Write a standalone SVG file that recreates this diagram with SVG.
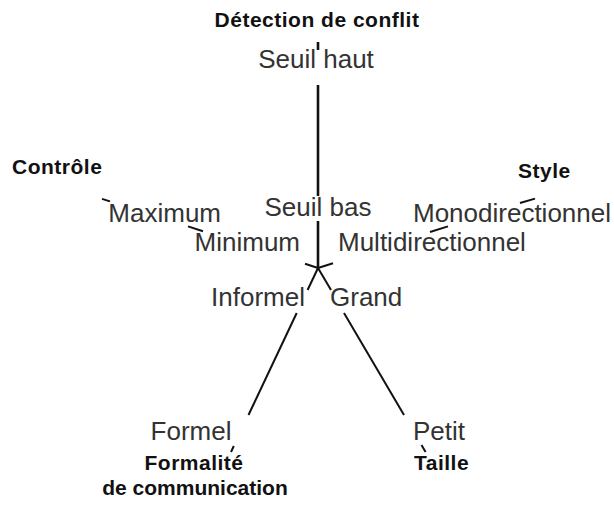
<svg xmlns="http://www.w3.org/2000/svg" width="614" height="514" viewBox="0 0 614 514">
<style>
.t{font-family:"Liberation Sans",Arial,sans-serif;font-size:21px;font-weight:bold;fill:#111;letter-spacing:0.5px}
.v{font-family:"Liberation Sans",Arial,sans-serif;font-size:26px;fill:#333}
.ax{stroke:#111;stroke-width:2;fill:none;stroke-linecap:butt}
.axv{stroke:#111;stroke-width:2.6;fill:none}
</style>
<rect width="614" height="514" fill="#fff"/>
<g id="connectors">
<line class="axv" x1="318" y1="42" x2="318" y2="50"/>
<line class="axv" x1="318" y1="85" x2="318" y2="196"/>
<line class="axv" x1="318" y1="221" x2="318" y2="268"/>
<line class="ax" x1="318" y1="268" x2="305" y2="263.8"/>
<line class="ax" x1="203" y1="231.2" x2="188" y2="226.4"/>
<line class="ax" x1="110" y1="201.4" x2="102" y2="198.9"/>
<line class="ax" x1="318" y1="268" x2="333" y2="263.2"/>
<line class="ax" x1="430" y1="232" x2="448" y2="226.4"/>
<line class="ax" x1="520" y1="203" x2="535" y2="198.6"/>
<line class="ax" x1="318" y1="268" x2="307.6" y2="290"/>
<line class="ax" x1="296.7" y1="313" x2="248.5" y2="415"/>
<line class="ax" x1="233.8" y1="446" x2="231" y2="452"/>
<line class="ax" x1="318" y1="268" x2="331" y2="290"/>
<line class="ax" x1="344" y1="313" x2="404" y2="415"/>
<line class="ax" x1="421.5" y1="445" x2="425.6" y2="452"/>
</g>
<g id="detection">
<text class="t" x="317" y="27" text-anchor="middle">Détection de conflit</text>
<text class="v" x="316" y="68" text-anchor="middle">Seuil haut</text>
<text class="v" x="318" y="216" text-anchor="middle">Seuil bas</text>
</g>
<g id="controle">
<text class="t" x="12" y="174">Contrôle</text>
<text class="v" x="221" y="222" text-anchor="end">Maximum</text>
<text class="v" x="300" y="251" text-anchor="end">Minimum</text>
</g>
<g id="style">
<text class="t" x="518" y="178">Style</text>
<text class="v" x="413" y="222">Monodirectionnel</text>
<text class="v" x="338" y="251">Multidirectionnel</text>
</g>
<g id="formalite">
<text class="v" x="305" y="306" text-anchor="end">Informel</text>
<text class="v" x="191" y="440" text-anchor="middle">Formel</text>
<text class="t" x="194" y="470" text-anchor="middle">Formalité</text>
<text class="t" x="195" y="495" text-anchor="middle" style="letter-spacing:0">de communication</text>
</g>
<g id="taille">
<text class="v" x="330" y="306">Grand</text>
<text class="v" x="439" y="440" text-anchor="middle">Petit</text>
<text class="t" x="414" y="470">Taille</text>
</g>
</svg>
